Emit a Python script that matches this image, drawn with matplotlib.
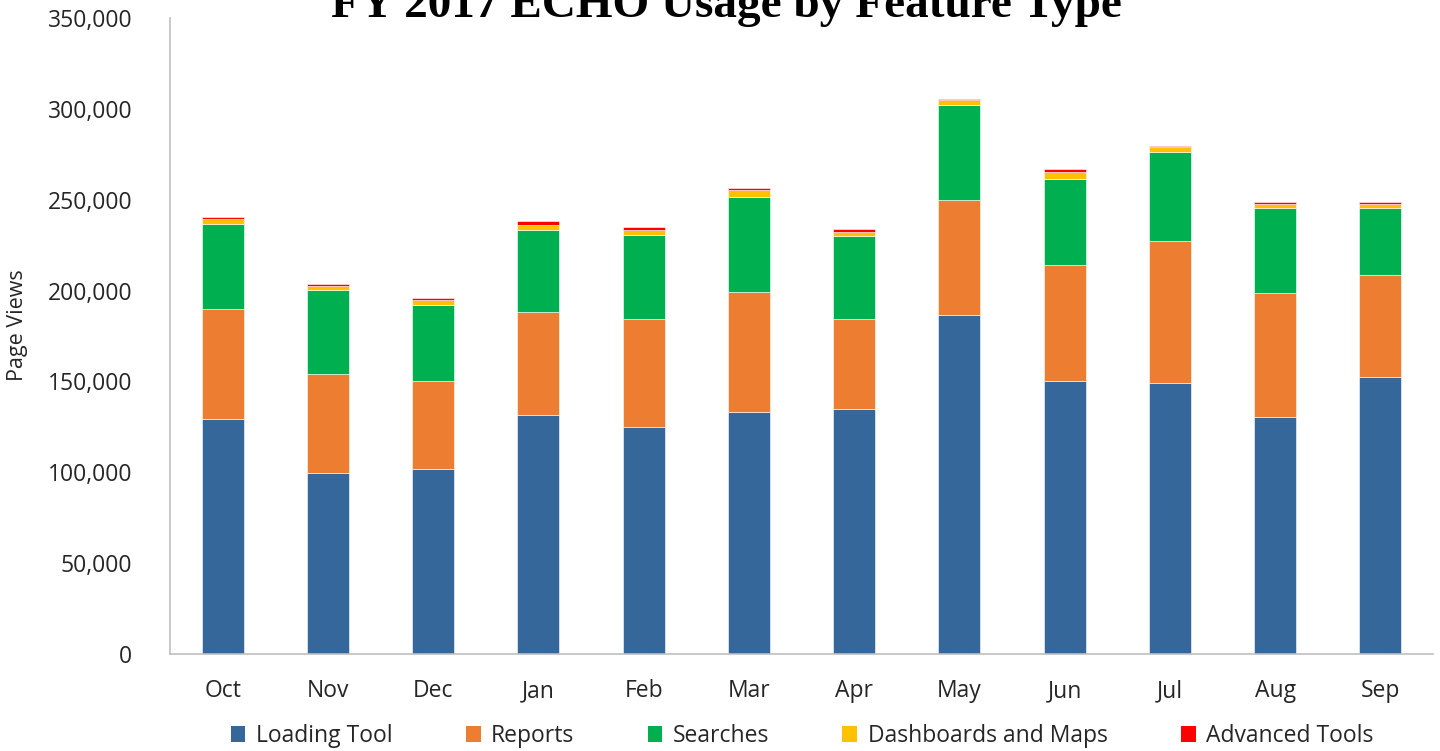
import matplotlib
matplotlib.use("Agg")
import matplotlib.pyplot as plt
import numpy as np
from matplotlib.patches import Patch
from matplotlib.ticker import FuncFormatter

months = ["Oct", "Nov", "Dec", "Jan", "Feb", "Mar", "Apr", "May", "Jun", "Jul", "Aug", "Sep"]
loading_tool = [129300, 99600, 101800, 131500, 124900, 133200, 134800, 186600, 150200, 149100, 130400, 152400]
reports = [60600, 54500, 48400, 56700, 59500, 66000, 49600, 63300, 63900, 78000, 68300, 56200]
searches = [46800, 46400, 42000, 45000, 46400, 52500, 45600, 52200, 47300, 49300, 46600, 36700]
dashboards = [2700, 2200, 2600, 3100, 2400, 3700, 2400, 2600, 3900, 2400, 2400, 2400]
advanced = [1100, 900, 1000, 1800, 1600, 1100, 1700, 700, 1400, 1000, 1100, 1100]

series = [
    ("Loading Tool", loading_tool, "#35679A"),
    ("Reports", reports, "#ED7D31"),
    ("Searches", searches, "#00B050"),
    ("Dashboards and Maps", dashboards, "#FFC000"),
    ("Advanced Tools", advanced, "#FF0000"),
]

plt.rcParams['font.family'] = ['Open Sans', 'DejaVu Sans']

fig = plt.figure(figsize=(14.4, 7.51), dpi=100)
ax = fig.add_axes([170/1440, 1-654/751, (1433-170)/1440, (654-18)/751])

x = np.arange(len(months))
bottom = np.zeros(len(months))
handles = []
for name, vals, col in series:
    v = np.array(vals, dtype=float)
    ax.bar(x, v, 0.4, bottom=bottom, color=col, edgecolor="white", linewidth=0.4)
    bottom += v
    handles.append(Patch(facecolor=col, edgecolor="none", label=name))

ax.set_xlim(-0.5, len(months) - 0.5)
ax.set_ylim(0, 350000)
ax.set_yticks(np.arange(0, 350001, 50000))
ax.yaxis.set_major_formatter(FuncFormatter(lambda v, p: f"{int(v):,}"))
ax.set_xticks(x)
ax.set_xticklabels(months)
ax.tick_params(axis="both", length=0, labelsize=16.5, colors="#262626")
ax.tick_params(axis="x", pad=18)
ax.tick_params(axis="y", pad=27)
for s in ["top", "right"]:
    ax.spines[s].set_visible(False)
for s in ["left", "bottom"]:
    ax.spines[s].set_color("#BFBFBF")
    ax.spines[s].set_linewidth(1.2)

fig.text(18/1440, 1-325/751, "Page Views", rotation=90, ha="center", va="center",
         fontsize=15.5, color="#262626")

fig.text(726/1440, 1-17/751, "FY 2017 ECHO Usage by Feature Type", ha="center", va="baseline",
         fontsize=34, fontweight="bold", family=["Liberation Serif", "DejaVu Serif"], color="black")

fig.legend(handles=handles, loc="center", bbox_to_anchor=(802/1440, 1-736/751), ncol=5,
           frameon=False, fontsize=16.5, handlelength=0.65, handleheight=0.7,
           handletextpad=0.45, columnspacing=3.2, labelcolor="#262626")

fig.savefig("out.png", dpi=100)
